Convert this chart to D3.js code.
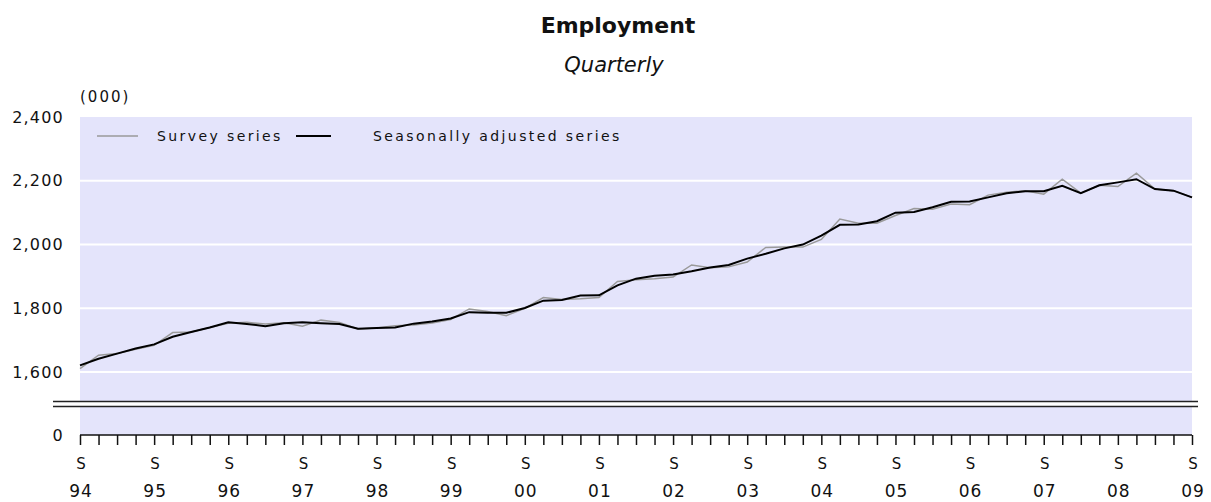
<!DOCTYPE html>
<html>
<head>
<meta charset="utf-8">
<script src="https://cdn.jsdelivr.net/npm/d3@7"></script>
<style>
  body { margin: 0; background: #fff; }
  svg text { font-family: "DejaVu Sans", Verdana, sans-serif; fill: #111; }
</style>
</head>
<body>
<svg id="chart" width="1211" height="502"></svg>
<script>
// quarterly, Sep 1994 .. Sep 2009, thousands
const survey = [
  1611, 1653, 1658, 1672, 1684, 1724, 1726, 1740, 1753, 1756,
  1751, 1755, 1744, 1763, 1756, 1735, 1738, 1745, 1748, 1754,
  1765, 1798, 1790, 1777, 1800, 1834, 1828, 1830, 1834, 1884,
  1890, 1893, 1898, 1936, 1927, 1930, 1945, 1991, 1992, 1992,
  2016, 2080, 2067, 2067, 2091, 2113, 2111, 2127, 2125, 2155,
  2164, 2169, 2158, 2205, 2161, 2186, 2182, 2224, 2174, 2169,
  2148
];
const adjusted = [
  1621, 1642, 1658, 1674, 1687, 1711, 1726, 1740, 1756, 1751,
  1744, 1753, 1756, 1753, 1751, 1736, 1738, 1740, 1752, 1759,
  1768, 1788, 1786, 1786, 1801, 1824, 1826, 1840, 1841, 1872,
  1893, 1902, 1906, 1916, 1928, 1936, 1956, 1971, 1988, 2000,
  2028, 2062, 2063, 2073, 2100, 2102, 2117, 2134, 2135, 2148,
  2161, 2167, 2167, 2184, 2161, 2186, 2195, 2205, 2174, 2169,
  2148
];
const years = ['94','95','96','97','98','99','00','01','02','03','04','05','06','07','08','09'];
const yTicks = [1600, 1800, 2000, 2200, 2400];
const gridValues = [1600, 1800, 2000, 2200];

const svg = d3.select('#chart');

let x = d3.scaleLinear().domain([0, survey.length - 1]).range([80, 1192]);
// broken axis: 0 at the bottom, then 1500..2400
let y = d3.scaleLinear().domain([0, 1500, 2400]).range([435, 404, 117]);

// plot background
svg.append('rect')
  .attr('x', x(0)).attr('y', y(2400))
  .attr('width', x(survey.length - 1) - x(0))
  .attr('height', y(0) - y(2400))
  .attr('fill', '#e4e4fb');

// white gridlines
gridValues.forEach((v) => {
  svg.append('line')
    .attr('x1', x(0)).attr('x2', x(survey.length - 1))
    .attr('y1', y(v)).attr('y2', y(v))
    .attr('stroke', '#fff').attr('stroke-width', 2);
});

// axis break: two dark lines with a white gap
svg.append('line')
  .attr('x1', 53).attr('x2', 1198)
  .attr('y1', y(1500)).attr('y2', y(1500))
  .attr('stroke', '#fff').attr('stroke-width', 4);
[-2.5, 2.5].forEach((off) => {
  svg.append('line')
    .attr('x1', 53).attr('x2', 1198)
    .attr('y1', y(1500) + off).attr('y2', y(1500) + off)
    .attr('stroke', '#222').attr('stroke-width', 1.6);
});

// y labels
yTicks.forEach((v) => {
  svg.append('text')
    .attr('x', 64).attr('y', y(v))
    .attr('dy', '0.35em')
    .attr('text-anchor', 'end')
    .attr('font-size', 16)
    .attr('letter-spacing', 1.2)
    .text(d3.format(',')(v));
});
svg.append('text')
  .attr('x', 64).attr('y', y(0))
  .attr('dy', '0.35em')
  .attr('text-anchor', 'end')
  .attr('font-size', 16)
  .attr('letter-spacing', 1.2)
  .text('0');
svg.append('text')
  .attr('x', 80).attr('y', 102)
  .attr('font-size', 15)
  .attr('letter-spacing', 2)
  .text('(000)');

// x axis with a tick per quarter
const xAxis = d3.axisBottom(x)
  .tickValues(d3.range(0, survey.length))
  .tickSize(10)
  .tickFormat('');
const gx = svg.append('g')
  .attr('transform', `translate(0,${y(0)})`)
  .call(xAxis);
gx.select('.domain').attr('stroke', '#111').attr('stroke-width', 1.5).attr('d', `M${x(0)},0H${x(survey.length - 1)}`);
gx.selectAll('.tick line').attr('stroke', '#111').attr('stroke-width', 1.5);

years.forEach((yr, i) => {
  svg.append('text')
    .attr('x', x(i * 4) + 1).attr('y', 469)
    .attr('text-anchor', 'middle')
    .attr('font-size', 15)
    .text('S');
  svg.append('text')
    .attr('x', x(i * 4) + 1).attr('y', 497)
    .attr('text-anchor', 'middle')
    .attr('font-size', 17)
    .attr('letter-spacing', 1)
    .text(yr);
});

// series lines
let line = d3.line()
  .x((d, i) => x(i))
  .y((d) => y(d));

svg.append('path')
  .attr('d', line(survey))
  .attr('fill', 'none')
  .attr('stroke', '#9a9a9a')
  .attr('stroke-width', 1.5);

svg.append('path')
  .attr('d', line(adjusted))
  .attr('fill', 'none')
  .attr('stroke', '#000')
  .attr('stroke-width', 2);

// legend
const legend = [
  { label: 'Survey series', color: '#9a9a9a', w: 1.5, x1: 97, x2: 138, tx: 157 },
  { label: 'Seasonally adjusted series', color: '#000', w: 2, x1: 296, x2: 331, tx: 373 }
];
legend.forEach((d) => {
  svg.append('line')
    .attr('x1', d.x1).attr('x2', d.x2)
    .attr('y1', 136).attr('y2', 136)
    .attr('stroke', d.color).attr('stroke-width', d.w);
  svg.append('text')
    .attr('x', d.tx).attr('y', 136)
    .attr('dy', '0.35em')
    .attr('font-size', 14)
    .attr('letter-spacing', 2.4)
    .text(d.label);
});

// titles
svg.append('text')
  .attr('x', 618).attr('y', 33)
  .attr('text-anchor', 'middle')
  .attr('font-size', 22)
  .attr('font-weight', 'bold')
  .text('Employment');
svg.append('text')
  .attr('x', 614).attr('y', 72)
  .attr('text-anchor', 'middle')
  .attr('font-size', 21)
  .attr('font-style', 'italic')
  .text('Quarterly');
</script>
</body>
</html>
